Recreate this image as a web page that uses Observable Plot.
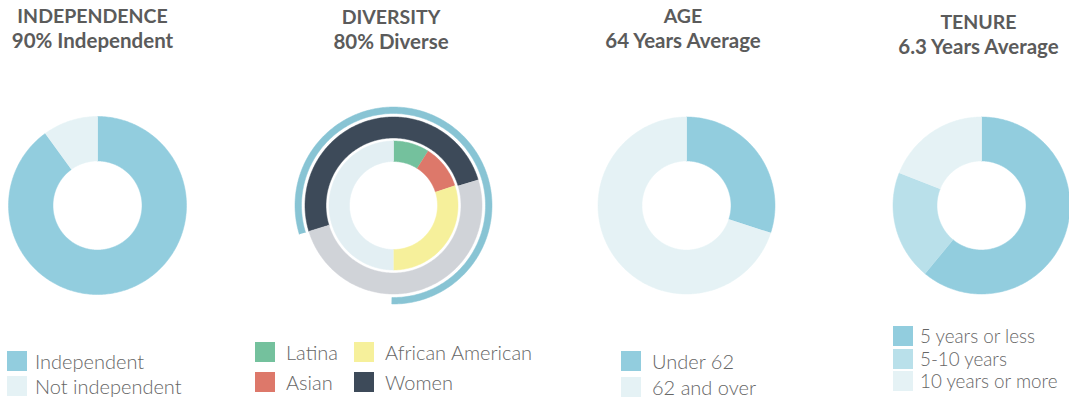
<!DOCTYPE html>
<html><head><meta charset="utf-8">
<script src="https://cdn.jsdelivr.net/npm/d3@7"></script>
<script src="https://cdn.jsdelivr.net/npm/@observablehq/plot@0.6"></script>
<style>
body{margin:0;background:#fff;font-family:Lato,"Open Sans",sans-serif;}
#root{position:relative;width:1069px;height:400px;overflow:hidden;}
.title{position:absolute;width:260px;text-align:center;font-weight:700;font-size:19.5px;line-height:24px;color:#5b5b5b;white-space:nowrap;}
.title .sub{font-size:20.5px;}
.chart{position:absolute;width:220px;height:220px;}
.chart svg{overflow:visible;max-width:none !important;}
.legend{font-size:20px;line-height:20px;font-weight:300;color:#666;white-space:nowrap;}
.legend.small{font-size:18.8px;}
.item{position:absolute;display:flex;align-items:center;height:20px;}
.sw{width:20px;height:20px;flex:none;}
</style></head><body><div id="root"></div>
<script>
// ---- data ----
const titles = ["INDEPENDENCE", "DIVERSITY", "AGE", "TENURE"];
const subtitles = ["90% Independent", "80% Diverse", "64 Years Average", "6.3 Years Average"];

const indLabels = ["Independent", "Not independent"];
const indValues = [90, 10];
const indColors = ["#92cdde", "#e5f2f5"];

const divLabels = ["Latina", "Asian", "African American", "Not diverse"];
const divValues = [9, 11, 30, 50];
const divColors = ["#74c19d", "#dd786a", "#f6f09b", "#e3eff3"];

const womenLabels = ["Women", "Men"];
const womenValues = [50, 50];
const womenColors = ["#3d4a59", "#d0d3d8"];

const diverseLabels = ["Diverse", "Not diverse"];
const diverseValues = [80, 20];
const diverseColors = ["#88c4d4", null];

const ageLabels = ["Under 62", "62 and over"];
const ageValues = [30, 70];
const ageColors = ["#92cdde", "#e5f2f5"];

const tenureLabels = ["5 years or less", "5-10 years", "10 years or more"];
const tenureValues = [61, 20, 19];
const tenureColors = ["#92cdde", "#b9e0ea", "#e5f2f5"];

// ---- helpers ----
function ring(labels, values, colors, r0, r1, start, key) {
  const total = d3.sum(values);
  const pts = [];
  let a = start;
  labels.forEach((lab, i) => {
    const a0 = a, a1 = a + values[i] / total * 360;
    a = a1;
    if (colors[i] == null) return;
    const n = Math.max(2, Math.ceil(a1 - a0));
    const id = key + "-" + i;
    for (let k = 0; k <= n; k++) {
      const t = (a0 + (a1 - a0) * k / n) * Math.PI / 180;
      pts.push({id, label: lab, color: colors[i], x: r1 * Math.sin(t), y: r1 * Math.cos(t)});
    }
    for (let k = n; k >= 0; k--) {
      const t = (a0 + (a1 - a0) * k / n) * Math.PI / 180;
      pts.push({id, label: lab, color: colors[i], x: r0 * Math.sin(t), y: r0 * Math.cos(t)});
    }
  });
  return pts;
}

function donut(pts) {
  return Plot.plot({
    width: 220, height: 220, margin: 0,
    x: {domain: [-110, 110], axis: null},
    y: {domain: [-110, 110], axis: null},
    color: {type: "identity"},
    marks: [
      Plot.line(pts, {x: "x", y: "y", z: "id", fill: "color", stroke: "color", strokeWidth: 0.5})
    ]
  });
}

const root = document.getElementById("root");
const cxs = [96.5, 393.3, 685.5, 980.5];
const cy = 204.5;
const titleCx = [92.5, 391, 683, 978.5];
const titleTop = [4, 5, 4, 10];

titles.forEach((t, i) => {
  const d = document.createElement("div");
  d.className = "title";
  d.style.left = (titleCx[i] - 130) + "px";
  d.style.top = titleTop[i] + "px";
  d.innerHTML = t + "<br><span class='sub'>" + subtitles[i] + "</span>";
  root.appendChild(d);
});

const charts = [
  ring(indLabels, indValues, indColors, 44.5, 89, 0, "ind"),
  [
    ...ring(diverseLabels, diverseValues, diverseColors, 92, 98.5, -107, "dv"),
    ...ring(womenLabels, womenValues, womenColors, 67.5, 88.5, -107, "wm"),
    ...ring(divLabels, divValues, divColors, 44, 64.5, 0, "eth")
  ],
  ring(ageLabels, ageValues, ageColors, 44.5, 88.5, 0, "age"),
  ring(tenureLabels, tenureValues, tenureColors, 44.5, 88.5, 0, "ten")
];
charts.forEach((pts, i) => {
  const d = document.createElement("div");
  d.className = "chart";
  d.style.left = (cxs[i] - 110) + "px";
  d.style.top = (cy - 110) + "px";
  d.appendChild(donut(pts));
  root.appendChild(d);
});

// ---- legends ----
function legend(items, gap, cls) {
  items.forEach(([label, color, x, y]) => {
    const it = document.createElement("div");
    it.className = "item";
    it.style.left = x + "px";
    it.style.top = y + "px";
    const sw = document.createElement("div");
    sw.className = "sw";
    sw.style.background = color;
    const tx = document.createElement("span");
    tx.textContent = label;
    tx.style.marginLeft = gap + "px";
    tx.className = "legend" + (cls ? " " + cls : "");
    it.appendChild(sw);
    it.appendChild(tx);
    root.appendChild(it);
  });
}
legend(indLabels.map((l, i) => [l, indColors[i], 7, 351 + i * 25]), 8);
legend([
  [divLabels[0], divColors[0], 255, 342],
  [divLabels[1], divColors[1], 255, 372],
  [divLabels[2], divColors[2], 354, 342],
  [womenLabels[0], womenColors[0], 354, 372]
], 11);
legend(ageLabels.map((l, i) => [l, ageColors[i], 621, 351 + i * 26]), 11);
legend(tenureLabels.map((l, i) => [l, tenureColors[i], 893, 326 + i * 22.6]), 7, "small");
</script>
</body></html>
